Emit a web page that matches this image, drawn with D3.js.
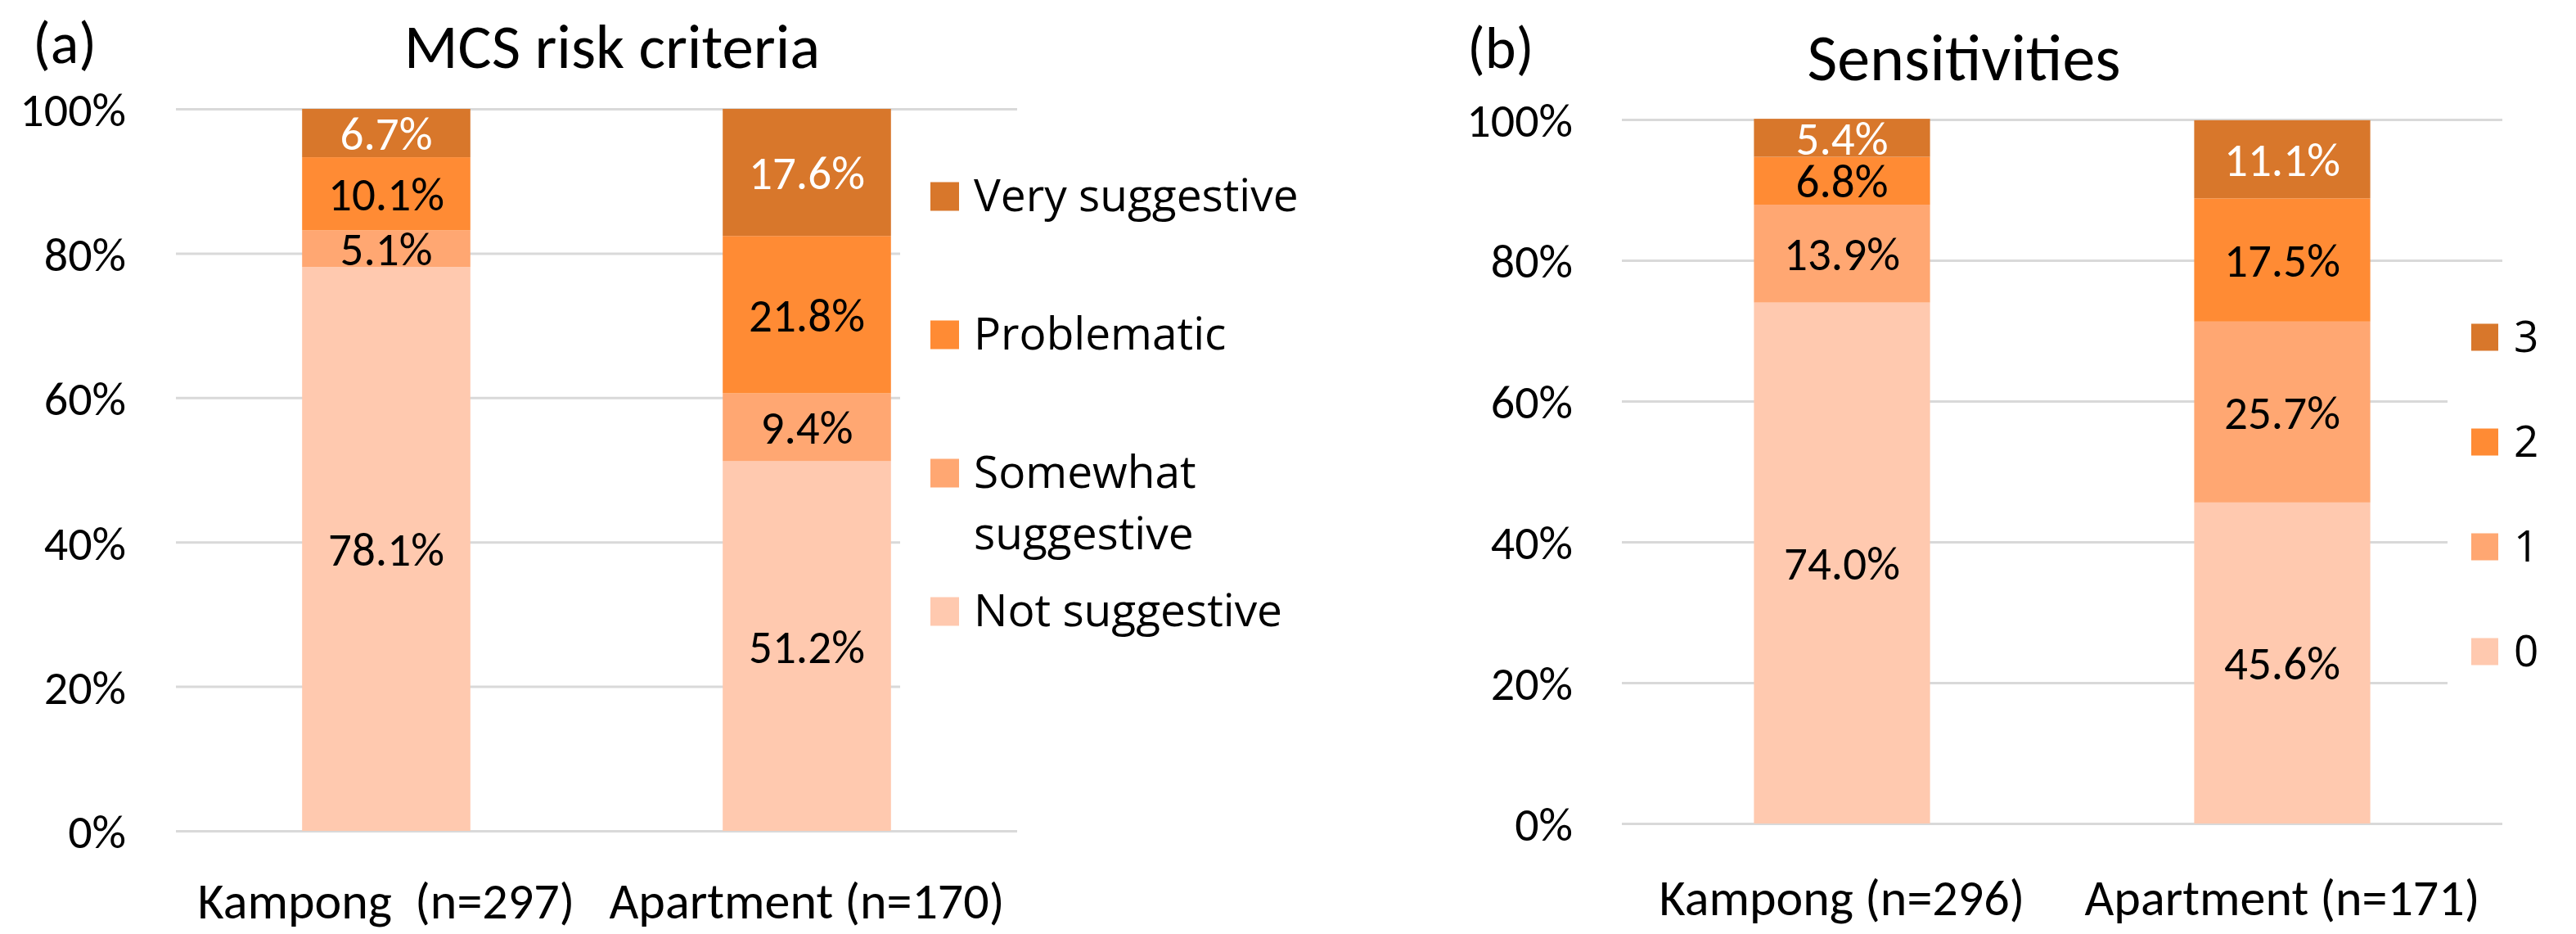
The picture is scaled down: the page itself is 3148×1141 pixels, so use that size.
<!DOCTYPE html>
<html><head><meta charset="utf-8">
<script src="https://cdn.jsdelivr.net/npm/d3@7"></script>
<style>body{margin:0;background:#fff} svg{display:block}</style>
</head><body>
<svg id="c" width="3148" height="1141"></svg>
<script>
// ---------- data ----------
const categoriesA = ["Kampong  (n=297)", "Apartment (n=170)"];
const seriesA = ["Not suggestive", "Somewhat suggestive", "Problematic", "Very suggestive"];
const notSuggestive = [78.1, 51.2];
const somewhatSuggestive = [5.1, 9.4];
const problematic = [10.1, 21.8];
const verySuggestive = [6.7, 17.6];

const categoriesB = ["Kampong (n=296)", "Apartment (n=171)"];
const seriesB = ["0", "1", "2", "3"];
const sens0 = [74.0, 45.6];
const sens1 = [13.9, 25.7];
const sens2 = [6.8, 17.5];
const sens3 = [5.4, 11.1];

const yTicks = [0, 20, 40, 60, 80, 100];
const tickLabels = ["0%", "20%", "40%", "60%", "80%", "100%"];
const colors = ["#FFC9AF", "#FFA772", "#FF8B34", "#D8772B"];
const labelColors = ["#000", "#000", "#000", "#fff"];

// ---------- layout ----------
const svg = d3.select("#c");
const CAL = "Carlito, Lato, sans-serif";
const LEG = "'Open Sans', sans-serif";

function panel(cfg) {
  const g = svg.append("g");
  const x = d3.scaleBand().domain(cfg.categories).range([cfg.x0, cfg.x1])
    .paddingInner(0.6).paddingOuter(0.3);
  const y = d3.scaleLinear().domain([0, 100]).range([cfg.yb, cfg.yt]);

  const ax = g.append("g").attr("transform", `translate(${cfg.x0},0)`)
    .call(d3.axisLeft(y).tickValues(yTicks).tickSize(-(cfg.x1 - cfg.x0))
      .tickFormat((d, i) => tickLabels[i]));
  ax.select(".domain").remove();
  ax.selectAll(".tick line").attr("stroke", "#D9D9D9").attr("stroke-width", 3);
  ax.selectAll(".tick text").attr("x", -(cfg.x0 - cfg.tickRight))
    .attr("dy", "0.36em")
    .attr("font-family", CAL).attr("font-size", 58).attr("fill", "#000");

  g.append("rect").attr("x", cfg.legBox[0]).attr("y", cfg.legBox[1])
    .attr("width", cfg.legBox[2]).attr("height", cfg.legBox[3]).attr("fill", "#fff");

  const rows = cfg.categories.map((c, i) => {
    const o = {cat: c};
    cfg.series.forEach((s, k) => o[s] = cfg.values[k][i]);
    return o;
  });
  const stack = d3.stack().keys(cfg.series)(rows);
  stack.forEach((layer, k) => {
    const lg = g.append("g");
    lg.selectAll("rect").data(layer).join("rect")
      .attr("x", d => x(d.data.cat)).attr("width", x.bandwidth())
      .attr("y", d => y(d[1])).attr("height", d => y(d[0]) - y(d[1]))
      .attr("fill", colors[k]);
    lg.selectAll("text").data(layer).join("text")
      .attr("x", d => x(d.data.cat) + x.bandwidth() / 2)
      .attr("y", d => (y(d[0]) + y(d[1])) / 2)
      .attr("dy", "0.36em")
      .attr("text-anchor", "middle")
      .attr("font-family", CAL).attr("font-size", 57)
      .attr("fill", labelColors[k])
      .text(d => (d[1] - d[0]).toFixed(1) + "%");
  });

  g.selectAll(".cat").data(cfg.categories).join("text")
    .attr("x", d => x(d) + x.bandwidth() / 2).attr("y", cfg.catY)
    .attr("text-anchor", "middle")
    .attr("font-family", CAL).attr("font-size", 62).attr("fill", "#000")
    .style("white-space", "pre")
    .text(d => d);

  g.append("text").attr("x", cfg.titleX).attr("y", cfg.titleY)
    .attr("text-anchor", "middle").attr("font-family", CAL)
    .attr("font-size", cfg.titleFont).attr("fill", "#000").text(cfg.title);
  g.append("text").attr("x", cfg.letterX).attr("y", cfg.letterY)
    .attr("font-family", CAL).attr("font-size", 72).attr("fill", "#000").text(cfg.letter);

  const items = cfg.series.map((s, k) => ({s, k})).reverse();
  items.forEach((it, j) => {
    const by = cfg.legY0 + j * cfg.legStep;
    g.append("rect").attr("x", cfg.legX).attr("y", by - cfg.legSq / 2 - cfg.legOff)
      .attr("width", cfg.legSq).attr("height", cfg.legSq).attr("fill", colors[it.k]);
    const lines = (cfg.legLines && cfg.legLines[it.s]) || [it.s];
    const t = g.append("text").attr("x", cfg.legTX).attr("y", by)
      .attr("font-family", LEG).attr("font-size", cfg.legFont).attr("fill", "#000");
    lines.forEach((ln, li) => {
      t.append("tspan").attr("x", cfg.legTX).attr("dy", li === 0 ? 0 : cfg.legLineH).text(ln);
    });
  });
}

panel({
  categories: categoriesA, series: seriesA,
  values: [notSuggestive, somewhatSuggestive, problematic, verySuggestive],
  x0: 215, x1: 1243, yt: 133, yb: 1015, tickRight: 154,
  legBox: [1100, 160, 560, 760],
  catY: 1122, title: "MCS risk criteria", titleX: 748, titleY: 83, titleFont: 77,
  letter: "(a)", letterX: 40, letterY: 77,
  legX: 1137, legTX: 1190, legY0: 258, legStep: 169, legSq: 35, legOff: 18,
  legFont: 55, legLineH: 75,
  legLines: {"Somewhat suggestive": ["Somewhat", "suggestive"]}
});

panel({
  categories: categoriesB, series: seriesB,
  values: [sens0, sens1, sens2, sens3],
  x0: 1982, x1: 3058, yt: 146, yb: 1006, tickRight: 1922,
  legBox: [2991, 345, 157, 560],
  catY: 1118, title: "Sensitivities", titleX: 2400, titleY: 98, titleFont: 80,
  letter: "(b)", letterX: 1793, letterY: 83,
  legX: 3020, legTX: 3072, legY0: 430, legStep: 128, legSq: 33, legOff: 18,
  legFont: 53, legLineH: 70
});
</script>
</body></html>
